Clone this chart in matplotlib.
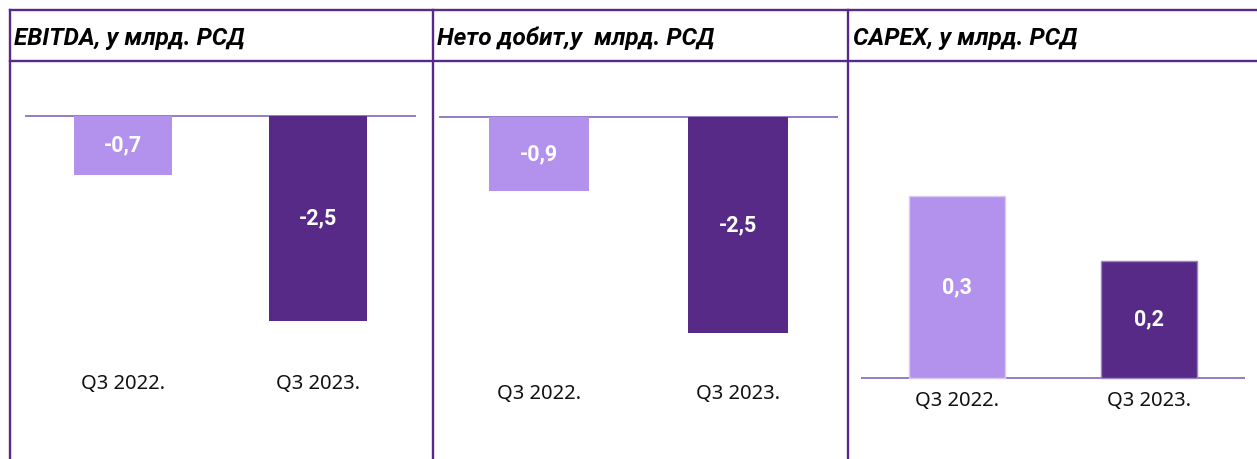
import numpy as np
import matplotlib
matplotlib.use("Agg")
import matplotlib.pyplot as plt
from matplotlib.lines import Line2D

plt.rcParams['font.family'] = ['Noto Sans', 'DejaVu Sans']

#%% data
categories = ['Q3 2022.', 'Q3 2023.']
titles = ['EBITDA, у млрд. РСД', 'Нето добит,у  млрд. РСД', 'CAPEX, у млрд. РСД']
ebitda = [-0.72, -2.5]
net_profit = [-0.86, -2.5]
capex = [0.31, 0.2]
series = [ebitda, net_profit, capex]

#%% layout (pixels)
W, H = 1257, 459
frame_col = '#57298A'
zero_col = '#8465BD'
bar_cols = ['#B392EE', '#562A86']
bold_font = ['Roboto', 'DejaVu Sans']
# left, right, zero-line y, px per unit, category label y
panels = [(25, 416, 116, 82.0, 384),
          (439, 838, 117, 86.4, 394),
          (861, 1245, 378, 587.0, 401)]
header_y, top_y = 61, 10
dividers = [10, 433, 848]
title_x = [14, 437, 853]

fig = plt.figure(figsize=(W / 100, H / 100), dpi=100)

# frame
for y in (top_y, header_y):
    fig.add_artist(Line2D([10 / W, 1], [1 - y / H, 1 - y / H], color=frame_col, lw=1.7))
for x in dividers:
    fig.add_artist(Line2D([x / W, x / W], [0, 1 - top_y / H], color=frame_col, lw=1.7))

for k, (left, right, zero, scale, lab_y) in enumerate(panels):
    ax = fig.add_axes([left / W, 0, (right - left) / W, 1 - (header_y + 1) / H])
    vals = np.array(series[k])
    x = np.arange(len(vals))
    if k == 2:
        ax.bar(x, vals, width=0.5, color=bar_cols, edgecolor=['#D9C9F7', '#9C84C4'], linewidth=1)
    else:
        ax.bar(x, vals, width=0.5, color=bar_cols)
    ax.axhline(0, color=zero_col, lw=1.2, zorder=0)
    ax.set_xlim(-0.5, 1.5)
    ax.set_ylim(-(H - zero) / scale, (zero - header_y - 1) / scale)
    for i, v in enumerate(vals):
        ax.text(i, v / 2, f'{v:.1f}'.replace('.', ','), ha='center', va='center',
                color='white', fontsize=15.5, fontweight='bold', family=bold_font)
        ax.text(i, -(lab_y - zero) / scale, categories[i], ha='center', va='center',
                fontsize=14.5, color='#111111')
    ax.axis('off')
    fig.text(title_x[k] / W, 1 - 38 / H, titles[k], ha='left', va='center',
             fontsize=17.5, fontweight='bold', fontstyle='italic', color='black',
             family=bold_font)

fig.savefig('out.png', dpi=100)
